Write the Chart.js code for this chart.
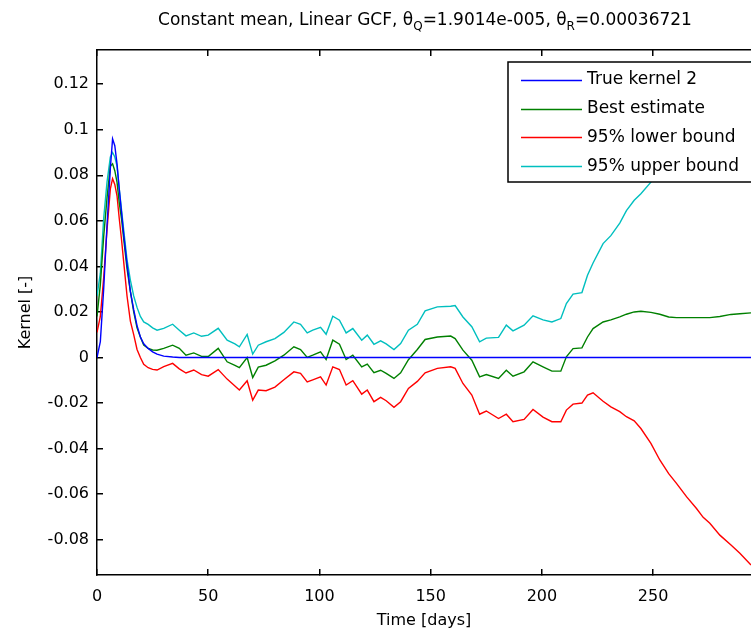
<!DOCTYPE html>
<html lang="en">
<head>
    <meta charset="UTF-8">
    <title>Kernel estimate</title>
    <style>
        body{
            margin: 0;
            background-color: #fff;
        }
        canvas{
            display: block;
        }
    </style>
</head>
<body>
    <canvas id="chart" width="751" height="633"></canvas>

    <script src="https://cdn.jsdelivr.net/npm/chart.js"></script>
    <script>
        // time axis (days) shared by all four curves
        const days = [0, 1.5, 3, 4.5, 6, 7, 8, 9, 10, 11, 12, 13.5, 15, 16.5, 18, 19.5, 21, 23, 25, 27,
            30, 34, 37, 40, 43.5, 47, 50, 54.5, 58.5, 62, 64, 67.5, 70, 72.5, 76, 80, 84, 88.5, 91.5, 94.5,
            97, 100.5, 103, 106, 109, 112, 115, 119, 121.5, 124.5, 127.5, 130, 133.5, 136.5, 140, 144, 147.5, 153, 159, 161,
            164.5, 168.5, 172, 175, 180.5, 184, 187, 192, 196, 200.5, 204.5, 208.5, 211, 214, 218, 220.5, 223, 227.5, 231, 235,
            238, 241.5, 244.5, 249, 253, 257, 260.5, 265, 269.5, 272.5, 275.5, 280, 285, 289, 294];

        const trueKernel = [0, 0.007, 0.03, 0.058, 0.083, 0.096, 0.093, 0.085, 0.074, 0.064, 0.054, 0.041, 0.029, 0.021, 0.014, 0.009, 0.006, 0.004, 0.0025, 0.0015,
            0.0006, 0.0002, 0, 0, 0, 0, 0, 0, 0, 0, 0, 0, 0, 0, 0, 0, 0, 0, 0, 0,
            0, 0, 0, 0, 0, 0, 0, 0, 0, 0, 0, 0, 0, 0, 0, 0, 0, 0, 0, 0,
            0, 0, 0, 0, 0, 0, 0, 0, 0, 0, 0, 0, 0, 0, 0, 0, 0, 0, 0, 0,
            0, 0, 0, 0, 0, 0, 0, 0, 0, 0, 0, 0, 0, 0, 0];

        const bestEstimate = [0.018, 0.032, 0.053, 0.07, 0.084, 0.085, 0.082, 0.077, 0.068, 0.061, 0.052, 0.039, 0.029, 0.02, 0.013, 0.009, 0.0055, 0.004, 0.0033, 0.0032,
            0.004, 0.0054, 0.004, 0.001, 0.002, 0.0005, 0.0004, 0.004, -0.0019, -0.0035, -0.0045, 0, -0.0088, -0.0042, -0.0034, -0.0015, 0.001, 0.0047, 0.0035, 0,
            0.001, 0.0025, -0.0009, 0.0076, 0.0058, -0.0009, 0.001, -0.0041, -0.0029, -0.0067, -0.0056, -0.007, -0.0092, -0.0067, -0.001, 0.0035, 0.0079, 0.009, 0.0094, 0.0083,
            0.0032, -0.0012, -0.0085, -0.0075, -0.0092, -0.0056, -0.0082, -0.0063, -0.0019, -0.0041, -0.006, -0.006, 0.0003, 0.0039, 0.0042, 0.009, 0.0127, 0.0156, 0.0165, 0.0178,
            0.019, 0.02, 0.0203, 0.0198, 0.019, 0.0178, 0.0175, 0.0175, 0.0175, 0.0175, 0.0175, 0.018, 0.0189, 0.0192, 0.0196];

        const lowerBound = [0.011, 0.018, 0.035, 0.056, 0.074, 0.0785, 0.076, 0.071, 0.061, 0.052, 0.042, 0.027, 0.016, 0.01, 0.0035, 0, -0.003, -0.0045, -0.0052, -0.0055,
            -0.004, -0.0026, -0.005, -0.0068, -0.0055, -0.0075, -0.0082, -0.0053, -0.0095, -0.0125, -0.0143, -0.0102, -0.0187, -0.0143, -0.0146, -0.013, -0.0098, -0.0063, -0.007, -0.0107,
            -0.0098, -0.0085, -0.0121, -0.0041, -0.0053, -0.0121, -0.0102, -0.0161, -0.0143, -0.0194, -0.0175, -0.019, -0.0219, -0.0194, -0.0136, -0.0105, -0.0067, -0.0048, -0.0041, -0.0048,
            -0.0114, -0.0165, -0.0249, -0.0235, -0.0268, -0.0249, -0.0282, -0.0272, -0.0228, -0.0262, -0.0282, -0.0282, -0.0231, -0.0205, -0.02, -0.0165, -0.0155, -0.0192, -0.0217, -0.0238,
            -0.026, -0.0278, -0.0312, -0.0377, -0.045, -0.051, -0.0553, -0.0611, -0.0663, -0.0702, -0.0728, -0.078, -0.0823, -0.086, -0.0911];

        const upperBound = [0.027, 0.037, 0.061, 0.077, 0.088, 0.09, 0.088, 0.084, 0.074, 0.065, 0.056, 0.043, 0.034, 0.027, 0.022, 0.018, 0.0156, 0.0145, 0.013, 0.012,
            0.0128, 0.0146, 0.012, 0.0095, 0.0108, 0.0093, 0.0098, 0.0128, 0.0076, 0.006, 0.0047, 0.0101, 0.0015, 0.0054, 0.0069, 0.0083, 0.011, 0.0156, 0.0146, 0.0108,
            0.012, 0.0132, 0.0102, 0.0181, 0.0164, 0.0108, 0.0127, 0.0076, 0.0098, 0.0058, 0.0073, 0.006, 0.0035, 0.0061, 0.012, 0.0146, 0.0205, 0.0222, 0.0225, 0.0228,
            0.0178, 0.0135, 0.0069, 0.0085, 0.0088, 0.0142, 0.0117, 0.0142, 0.0183, 0.0165, 0.0156, 0.0171, 0.0237, 0.0278, 0.0285, 0.0361, 0.0415, 0.05, 0.0535, 0.059,
            0.0645, 0.069, 0.0719, 0.077, 0.083, 0.089, 0.094, 0.099, 0.104, 0.107, 0.11, 0.114, 0.12, 0.124, 0.13];

        const seriesNames = ['True kernel 2', 'Best estimate', '95% lower bound', '95% upper bound'];
        const seriesColors = ['#0000ff', '#008000', '#ff0000', '#00bfbf'];

        const xTicks = [0, 50, 100, 150, 200, 250];
        const yTicks = [-0.08, -0.06, -0.04, -0.02, 0, 0.02, 0.04, 0.06, 0.08, 0.1, 0.12];

        const FONT = '"DejaVu Sans", sans-serif';

        function toPoints(vals) {
            return days.map((d, i) => ({x: d, y: vals[i]}));
        }

        // legend box inside the axes + title with subscripts
        const matlabDecor = {
            id: 'matlabDecor',
            afterDraw(chart) {
                const ctx = chart.ctx;
                ctx.save();

                const lx = 508, ly = 62, lw = 260, lh = 120;
                ctx.fillStyle = '#fff';
                ctx.fillRect(lx, ly, lw, lh);
                ctx.strokeStyle = '#000';
                ctx.lineWidth = 1.5;
                ctx.strokeRect(lx, ly, lw, lh);
                ctx.font = '17px ' + FONT;
                ctx.textBaseline = 'middle';
                ctx.textAlign = 'left';
                seriesNames.forEach((name, i) => {
                    const ry = ly + 18 + i * 28.7;
                    ctx.strokeStyle = seriesColors[i];
                    ctx.lineWidth = 1.5;
                    ctx.beginPath();
                    ctx.moveTo(521, Math.round(ry) + 0.5);
                    ctx.lineTo(582, Math.round(ry) + 0.5);
                    ctx.stroke();
                    ctx.fillStyle = '#000';
                    ctx.fillText(name, 587, ry);
                });

                const parts = [
                    ['Constant mean, Linear GCF, \u03b8', false],
                    ['Q', true],
                    ['=1.9014e-005, \u03b8', false],
                    ['R', true],
                    ['=0.00036721', false]
                ];
                const big = '17px ' + FONT, small = '12px ' + FONT;
                ctx.textBaseline = 'alphabetic';
                let total = 0;
                parts.forEach(([s, sub]) => {
                    ctx.font = sub ? small : big;
                    total += ctx.measureText(s).width;
                });
                let cx = 425 - total / 2;
                parts.forEach(([s, sub]) => {
                    ctx.font = sub ? small : big;
                    ctx.fillText(s, cx, sub ? 30 : 25);
                    cx += ctx.measureText(s).width;
                });
                ctx.restore();
            }
        };

        // inward tick marks (negative tick length), no grid lines inside the axes
        const frameGrid = {display: true, drawOnChartArea: false, drawTicks: true, tickLength: -6, color: '#000', lineWidth: 1.5};
        const frameBorder = {display: true, color: '#000', width: 1.5};

        const ctx = document.getElementById('chart').getContext('2d');
        const chart = new Chart(ctx, {
            type: 'line',
            data: {
                datasets: [trueKernel, bestEstimate, lowerBound, upperBound].map((vals, i) => ({
                    label: seriesNames[i],
                    data: toPoints(vals),
                    borderColor: seriesColors[i],
                    backgroundColor: seriesColors[i],
                    borderWidth: 1.4,
                    pointRadius: 0,
                    tension: 0,
                    fill: false
                }))
            },
            options: {
                responsive: false,
                animation: false,
                layout: {padding: {top: 50, left: 0, right: 0, bottom: 0}},
                plugins: {
                    legend: {display: false},
                    tooltip: {enabled: false}
                },
                scales: {
                    x: {
                        type: 'linear',
                        position: 'bottom',
                        min: 0,
                        max: 294,
                        afterFit: s => { s.height = 58; },
                        afterBuildTicks: s => { s.ticks = xTicks.map(v => ({value: v})); },
                        ticks: {
                            color: '#000',
                            padding: 18,
                            maxRotation: 0,
                            font: {family: FONT, size: 16}
                        },
                        grid: frameGrid,
                        border: frameBorder,
                        title: {
                            display: true,
                            text: 'Time [days]',
                            color: '#000',
                            padding: {top: 0, bottom: 3},
                            font: {family: FONT, size: 16}
                        }
                    },
                    x2: {
                        type: 'linear',
                        axis: 'x',
                        position: 'top',
                        min: 0,
                        max: 294,
                        afterFit: s => { s.height = 0; },
                        afterBuildTicks: s => { s.ticks = xTicks.map(v => ({value: v})); },
                        ticks: {display: false},
                        grid: frameGrid,
                        border: frameBorder
                    },
                    y: {
                        type: 'linear',
                        min: -0.0955,
                        max: 0.135,
                        afterFit: s => { s.width = 97; },
                        afterBuildTicks: s => { s.ticks = yTicks.map(v => ({value: v})); },
                        ticks: {
                            color: '#000',
                            padding: 14,
                            font: {family: FONT, size: 16},
                            callback: v => String(parseFloat(v.toFixed(4)))
                        },
                        grid: frameGrid,
                        border: frameBorder,
                        title: {
                            display: true,
                            text: 'Kernel [-]',
                            color: '#000',
                            padding: {top: 16, bottom: 0},
                            font: {family: FONT, size: 16}
                        }
                    }
                }
            },
            plugins: [matlabDecor]
        });
    </script>
</body>
</html>
